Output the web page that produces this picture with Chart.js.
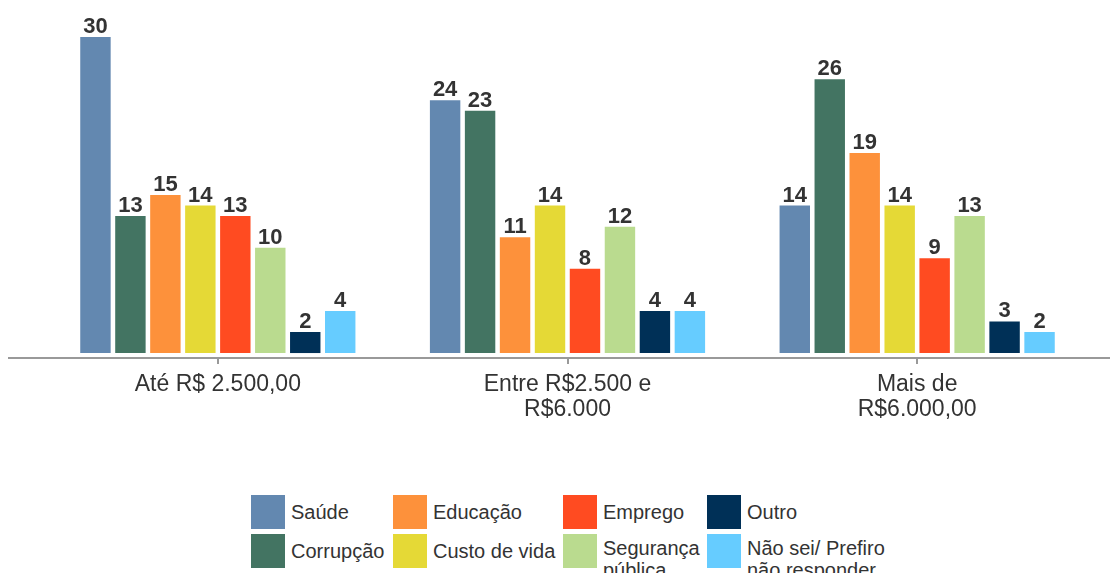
<!DOCTYPE html>
<html>
<head>
<meta charset="utf-8">
<script src="https://cdn.jsdelivr.net/npm/chart.js@4.4.1/dist/chart.umd.min.js"></script>
<style>
  html, body { margin: 0; padding: 0; background: #fff; }
  #wrap { position: relative; width: 1110px; height: 573px; overflow: hidden; font-family: "Liberation Sans", Arial, sans-serif; }
  #chart { position: absolute; left: 0; top: 0; }
  .lg { position: absolute; display: flex; align-items: center; }
  .lg .box { width: 34px; height: 34px; flex: none; }
  .lg .txt { margin-left: 6px; font-size: 20px; line-height: 22px; color: #333; }
</style>
</head>
<body>
<div id="wrap">
  <canvas id="chart" width="1110" height="480"></canvas>
  <div id="legend"></div>
</div>
<script>
// categories (income bands)
var categories = [
    ['Até R$ 2.500,00'],
    ['Entre R$2.500 e', 'R$6.000'],
    ['Mais de', 'R$6.000,00']
];

// series names, colours, values (%)
var seriesNames = ['Saúde', 'Corrupção', 'Educação', 'Custo de vida', 'Emprego', 'Segurança pública', 'Outro', 'Não sei/ Prefiro não responder'];
var seriesColors = ['#6388b0', '#437462', '#fd913b', '#e5d936', '#ff4b21', '#badb8f', '#003057', '#66ccff'];

var saude = [30, 24, 14];
var corrupcao = [13, 23, 26];
var educacao = [15, 11, 19];
var custoVida = [14, 14, 14];
var emprego = [13, 8, 9];
var seguranca = [10, 12, 13];
var outro = [2, 4, 3];
var naoSei = [4, 4, 2];

var seriesValues = [saude, corrupcao, educacao, custoVida, emprego, seguranca, outro, naoSei];

// legend text (line breaks as in the picture)
var legendLines = [['Saúde'], ['Corrupção'], ['Educação'], ['Custo de vida'], ['Emprego'], ['Segurança', 'pública'], ['Outro'], ['Não sei/ Prefiro', 'não responder']];

var datasets = seriesNames.map(function (name, i) {
    return {
        label: name,
        data: seriesValues[i],
        backgroundColor: seriesColors[i],
        borderWidth: 0,
        categoryPercentage: 0.8,
        barPercentage: 0.87
    };
});

/**
 * Value labels above each bar
 */
var valueLabels = {
    id: 'valueLabels',
    afterDatasetsDraw: function (chart) {
        var ctx = chart.ctx;
        ctx.save();
        ctx.font = 'bold 22px "Liberation Sans", Arial, sans-serif';
        ctx.fillStyle = '#333333';
        ctx.textAlign = 'center';
        ctx.textBaseline = 'alphabetic';
        chart.data.datasets.forEach(function (ds, i) {
            chart.getDatasetMeta(i).data.forEach(function (bar, j) {
                ctx.fillText(ds.data[j], bar.x, bar.y - 4);
            });
        });
        ctx.restore();
    }
};

/**
 * Baseline running across the full width, with a small tick under each group
 */
var baseLine = {
    id: 'baseLine',
    afterDraw: function (chart) {
        var ctx = chart.ctx;
        var y = chart.chartArea.bottom;
        var xs = chart.scales.x;
        ctx.save();
        ctx.strokeStyle = '#999999';
        ctx.lineWidth = 2;
        ctx.beginPath();
        ctx.moveTo(8, y);
        ctx.lineTo(1110, y);
        xs.ticks.forEach(function (t, i) {
            var x = Math.round(xs.getPixelForTick(i));
            ctx.moveTo(x, y);
            ctx.lineTo(x, y + 6);
        });
        ctx.stroke();
        ctx.restore();
    }
};

new Chart(document.getElementById('chart').getContext('2d'), {
    type: 'bar',
    data: { labels: categories, datasets: datasets },
    options: {
        responsive: false,
        animation: false,
        layout: { padding: { top: 37, left: 43, right: 18, bottom: 0 } },
        plugins: {
            legend: { display: false },
            tooltip: { enabled: false }
        },
        scales: {
            x: {
                afterFit: function (scale) { scale.height = 122; },
                border: { display: false },
                grid: { display: false },
                ticks: {
                    color: '#333333',
                    padding: 7,
                    maxRotation: 0,
                    font: { family: '"Liberation Sans", Arial, sans-serif', size: 23, lineHeight: 1.05 }
                }
            },
            y: {
                display: false,
                min: -0.47,
                max: 30
            }
        }
    },
    plugins: [valueLabels, baseLine]
});

// legend, laid out in four columns of two rows
var legendCols = [251, 393, 563, 707];
var legendRows = [495, 534];
var legendEl = document.getElementById('legend');
seriesNames.forEach(function (name, i) {
    var col = Math.floor(i / 2), row = i % 2;
    var item = document.createElement('div');
    item.className = 'lg';
    item.style.left = legendCols[col] + 'px';
    item.style.top = legendRows[row] + 'px';
    item.style.height = '34px';
    var box = document.createElement('div');
    box.className = 'box';
    box.style.background = seriesColors[i];
    var txt = document.createElement('div');
    txt.className = 'txt';
    txt.innerHTML = legendLines[i].join('<br>');
    if (legendLines[i].length > 1) txt.style.marginTop = '16px';
    item.appendChild(box);
    item.appendChild(txt);
    legendEl.appendChild(item);
});
</script>
</body>
</html>
